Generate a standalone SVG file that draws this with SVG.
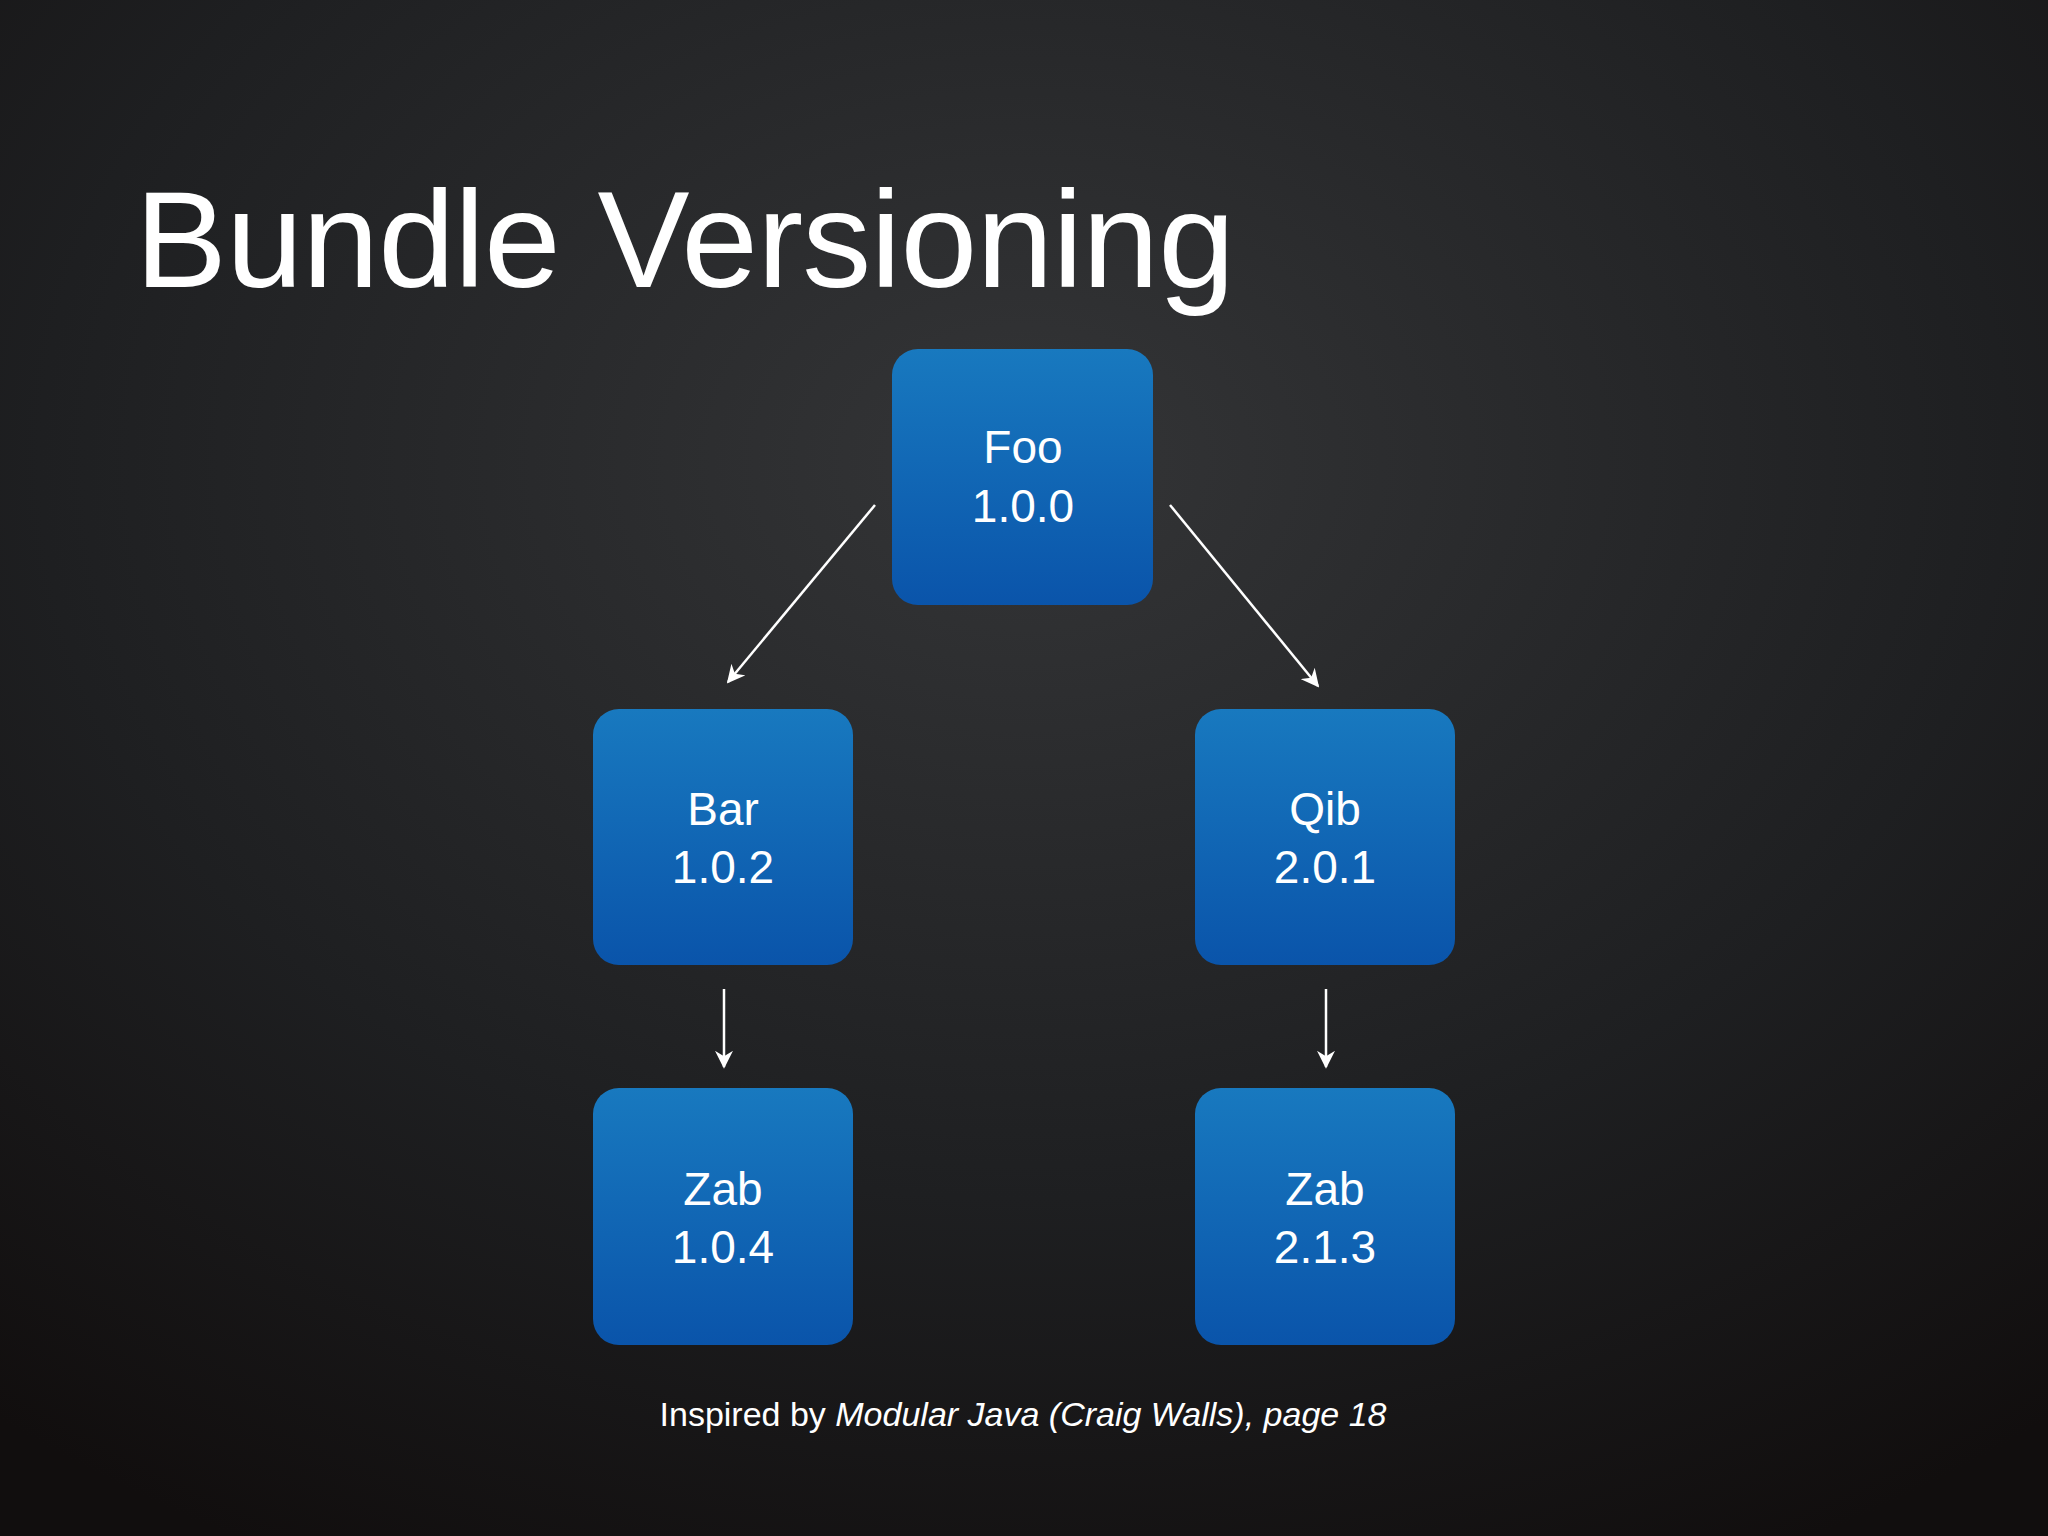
<svg xmlns="http://www.w3.org/2000/svg" width="2048" height="1536" viewBox="0 0 2048 1536">
<defs>
<radialGradient id="bg" cx="0.5" cy="0.3" r="0.8">
<stop offset="0" stop-color="#343537"/>
<stop offset="0.6" stop-color="#1e1f21"/>
<stop offset="1" stop-color="#110e0e"/>
</radialGradient>
<linearGradient id="box" x1="0" y1="0" x2="0" y2="1">
<stop offset="0" stop-color="#1879bf"/>
<stop offset="1" stop-color="#0a54aa"/>
</linearGradient>
<marker id="ah" viewBox="0 0 10 10" refX="9" refY="5" markerWidth="18" markerHeight="18" orient="auto" markerUnits="userSpaceOnUse">
<path d="M0,0 L10,5 L0,10 L3,5 z" fill="#fff"/>
</marker>
<style>
.box{fill:url(#box);}
.lbl{font-family:"Liberation Sans",Arial,sans-serif;font-size:46px;fill:#fff;text-anchor:middle;}
.c{stroke:#fff;stroke-width:2.5;fill:none;marker-end:url(#ah);}
</style>
</defs>
<rect width="2048" height="1536" fill="url(#bg)"/>
<text x="135" y="287" font-family="Liberation Sans,Arial,sans-serif" font-size="138" fill="#fff" textLength="1100">Bundle Versioning</text>
<g id="connectors">
<line class="c" x1="875" y1="505" x2="728" y2="682"/>
<line class="c" x1="1170" y1="505" x2="1318" y2="686"/>
<line class="c" x1="724" y1="989" x2="724" y2="1067"/>
<line class="c" x1="1326" y1="989" x2="1326" y2="1067"/>
</g>
<g id="foo"><rect class="box" x="892" y="349" width="261" height="256" rx="26"/><text class="lbl" x="1023" y="463">Foo</text><text class="lbl" x="1023" y="522">1.0.0</text></g>
<g id="bar"><rect class="box" x="593" y="709" width="260" height="256" rx="26"/><text class="lbl" x="723" y="825">Bar</text><text class="lbl" x="723" y="883">1.0.2</text></g>
<g id="qib"><rect class="box" x="1195" y="709" width="260" height="256" rx="26"/><text class="lbl" x="1325" y="825">Qib</text><text class="lbl" x="1325" y="883">2.0.1</text></g>
<g id="zab1"><rect class="box" x="593" y="1088" width="260" height="257" rx="26"/><text class="lbl" x="723" y="1205">Zab</text><text class="lbl" x="723" y="1263">1.0.4</text></g>
<g id="zab2"><rect class="box" x="1195" y="1088" width="260" height="257" rx="26"/><text class="lbl" x="1325" y="1205">Zab</text><text class="lbl" x="1325" y="1263">2.1.3</text></g>
<text x="1023" y="1426" text-anchor="middle" font-family="Liberation Sans,Arial,sans-serif" font-size="34" fill="#fff">Inspired by <tspan font-style="italic">Modular Java (Craig Walls), page 18</tspan></text>
</svg>
